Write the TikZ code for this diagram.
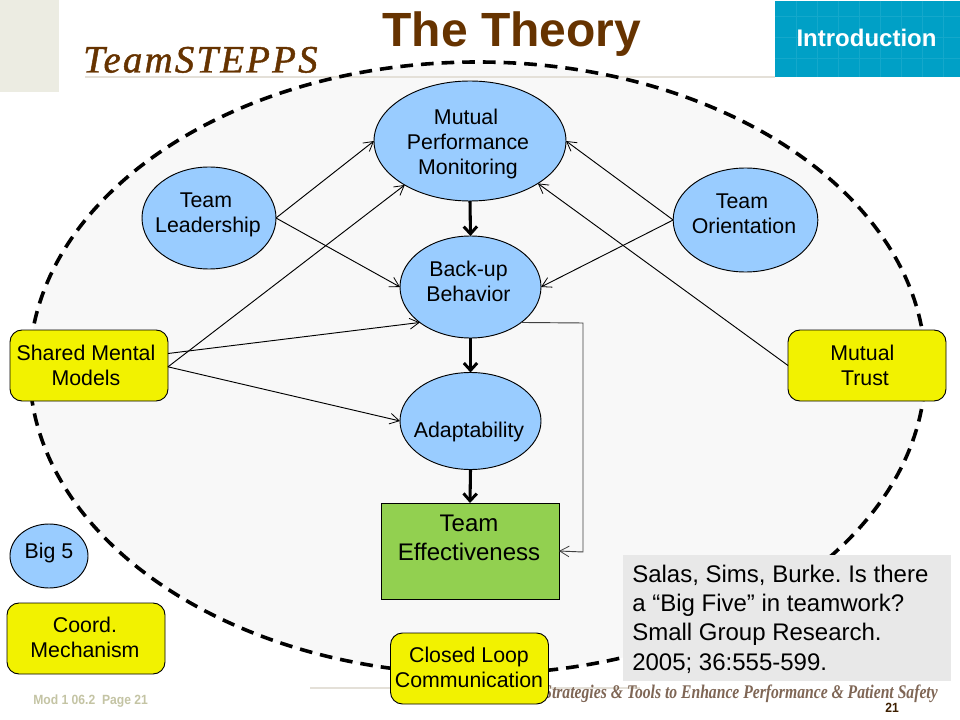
\documentclass[tikz,border=0pt]{standalone}
\usepackage{fontspec}
\setmainfont{Liberation Sans}
\newfontfamily\logofontsp[LetterSpace=6,FakeBold=1.2]{Liberation Serif}
\newfontfamily\tagfont[FakeStretch=0.81]{Liberation Serif}
\newfontfamily\modfont[FakeStretch=0.91]{Liberation Sans}
\usetikzlibrary{shapes.geometric,arrows.meta}
\definecolor{bubblefill}{HTML}{99CCFF}
\definecolor{boxyellow}{HTML}{F2F200}
\definecolor{boxgreen}{HTML}{92D050}
\definecolor{titlebrown}{HTML}{663300}
\definecolor{tealbox}{HTML}{00A0C6}
\definecolor{tealgrid}{HTML}{14A8CB}
\definecolor{cornerbeige}{HTML}{ECECE2}
\definecolor{rulebeige}{HTML}{E4E0D8}
\definecolor{backfill}{HTML}{F8F8F8}
\definecolor{refgray}{HTML}{E8E8E8}
\definecolor{modgray}{HTML}{C4C4A4}
\definecolor{tagbrown}{HTML}{7F6655}
\tikzset{
  bubble/.style={ellipse,draw=black,line width=0.7pt,fill=bubblefill,inner sep=0pt,outer sep=0pt},
  yellowbox/.style={rectangle,rounded corners=9pt,draw=black,line width=0.7pt,fill=boxyellow,inner sep=0pt,outer sep=0pt,minimum width=118.5pt,minimum height=53.25pt},
  lbl/.style={inner sep=0pt,align=center,font=\fontsize{16pt}{18.9pt}\selectfont},
  thinarrow/.style={-{Straight Barb[length=7pt,width=8pt,line width=0.6pt]},line width=0.7pt,black},
  thickarrow/.style={-{Straight Barb[length=5.5pt,width=10pt,line width=2.2pt]},line width=2.3pt,black}
}
\begin{document}
\frenchspacing
\begin{tikzpicture}[x=0.75pt,y=-0.75pt]
\useasboundingbox (0,0) rectangle (960,720);
\fill[white] (0,0) rectangle (960,720);
% page furniture
\fill[cornerbeige] (0,0) rectangle (59,92);
\fill[backfill] (477.5,368) ellipse [x radius=448,y radius=306];
\draw[rulebeige,line width=0.8pt] (85,77) -- (775,77);
\fill[tealbox] (775,1) rectangle (960,77);
\foreach \gx in {796,817,...,950} \draw[tealgrid,line width=0.4pt] (\gx,1) -- (\gx,77);
\foreach \gy in {16,37,58} \draw[tealgrid,line width=0.4pt] (775,\gy) -- (960,\gy);
\draw[rulebeige,line width=0.8pt] (310,688) -- (640,688);
\draw[black,line width=2.7pt,dash pattern=on 9.5pt off 6pt] (477.5,368) ellipse [x radius=448,y radius=306];
% headings
\node[anchor=base,inner sep=0pt,text=titlebrown,font=\fontsize{36pt}{36pt}\selectfont\bfseries] (title) at (512,47) {The Theory};
\node[anchor=base,inner sep=0pt,text=white,font=\fontsize{18pt}{18pt}\selectfont\bfseries] (intro) at (866.5,47) {Introduction};
\node[anchor=base west,inner sep=0pt,text=titlebrown,font=\fontsize{29pt}{29pt}\logofontsp\itshape] (logo) at (83,72.5) {TeamSTEPPS};
\node[anchor=base east,inner sep=0pt,text=tagbrown,font=\fontsize{14.5pt}{14.5pt}\tagfont\bfseries\itshape] (tag) at (938,698) {Strategies \& Tools to Enhance Performance \& Patient Safety};
\node[anchor=base west,inner sep=0pt,text=modgray,font=\fontsize{10pt}{10pt}\modfont\bfseries] (mod) at (33,704) {Mod 1 06.2\ \ Page 21};
\node[anchor=base,inner sep=0pt,text=titlebrown!60!black,font=\fontsize{10pt}{10pt}\modfont\bfseries] (pagenum) at (892,712) {21};
% shapes
\node[bubble,minimum width=144pt,minimum height=90pt] (mpm) at (470,141) {};
\node[bubble,minimum width=100.5pt,minimum height=76.5pt] (lead) at (209,218) {};
\node[bubble,minimum width=108.5pt,minimum height=78pt] (orient) at (745.5,220) {};
\node[bubble,minimum width=105.75pt,minimum height=76.5pt] (backup) at (470.5,287) {};
\node[bubble,minimum width=105.75pt,minimum height=72.75pt] (adapt) at (470.5,421) {};
\node[bubble,minimum width=58.5pt,minimum height=48pt] (bigfive) at (49,556) {};
\node[rectangle,draw=black,line width=0.7pt,fill=boxgreen,inner sep=0pt,outer sep=0pt,minimum width=133.5pt,minimum height=72pt] (effect) at (470,551) {};
\node[yellowbox] (shared) at (89,365.5) {};
\node[yellowbox] (trust) at (867,365.5) {};
\node[yellowbox] (coord) at (86,638.5) {};
\node[yellowbox] (closed) at (469.5,668.5) {};
\node[rectangle,fill=refgray,inner sep=0pt,minimum width=246pt,minimum height=94.5pt] (refbox) at (787,618) {};
% labels
\node[lbl] (mpmt) at (468,144) {Mutual\hspace*{3pt}\\Performance\\Monitoring};
\node[lbl] (leadt) at (208,214.5) {Team\hspace*{3pt}\\Leadership};
\node[lbl] (orientt) at (744,213.5) {Team\hspace*{3pt}\\Orientation};
\node[lbl] (backupt) at (468.5,281.5) {Back-up\\Behavior};
\node[lbl] (adaptt) at (469,432) {Adaptability};
\node[lbl] (bigfivet) at (49,553) {Big 5};
\node[lbl] (sharedt) at (86,365.5) {Shared Mental\\Models};
\node[lbl] (trustt) at (865,365.5) {Mutual\hspace*{4pt}\\Trust};
\node[lbl] (coordt) at (85,637.5) {Coord.\\Mechanism};
\node[lbl] (closedt) at (469,667.5) {Closed Loop\\Communication};
\node[inner sep=0pt,align=center,font=\fontsize{18pt}{21.75pt}\selectfont] (effectt) at (469,537.5) {Team\\Effectiveness};
\node[anchor=west,inner sep=0pt,align=left,font=\fontsize{18pt}{22pt}\selectfont] (reft) at (632,619) {Salas, Sims, Burke. Is there\\a “Big Five” in teamwork?\\Small Group Research.\\2005; 36:555-599.};
% connectors
\draw[thinarrow] (lead.east) -- (mpm.west);
\draw[thinarrow] (lead.east) -- (backup.west);
\draw[thinarrow] (orient.west) -- (mpm.east);
\draw[thinarrow] (orient.west) -- (backup.east);
\coordinate (sharedhi) at ([yshift=9pt]shared.east);
\coordinate (sharedlo) at ([yshift=-1pt]shared.east);
\draw[thinarrow] (sharedlo) -- (mpm.214);
\draw[thinarrow] (sharedhi) -- (backup.215);
\draw[thinarrow] (sharedlo) -- (adapt.west);
\draw[thinarrow] (trust.west) -- (mpm.-32);
\draw[thickarrow] (mpm.south) -- (backup.north);
\draw[thickarrow] (backup.south) -- (adapt.north);
\draw[thickarrow] (adapt.south) -- (effect.north);
\coordinate (elbowa) at (583,323);
\coordinate (elbowb) at (583,552);
\draw[thinarrow,draw=black!75] (backup.-35) -- (elbowa) -- (elbowb) -- (effect.east);
\end{tikzpicture}
\end{document}
